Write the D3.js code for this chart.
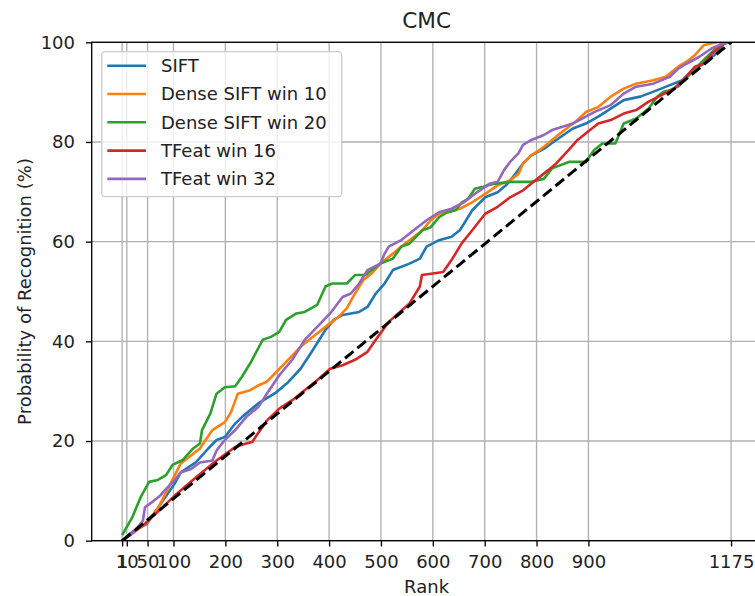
<!DOCTYPE html>
<html>
<head>
<meta charset="utf-8">
<script src="https://cdn.jsdelivr.net/npm/d3@7"></script>
<style>
  html, body { margin: 0; padding: 0; background: #fff; }
  svg { display: block; font-family: "DejaVu Sans", sans-serif; }
</style>
</head>
<body>
<svg id="chart" width="755" height="596"></svg>
<script>
// Cumulative match characteristic curves: [rank, probability of recognition %]
const sift = [[1,0],[21,1.8],[49,3.4],[62,5.4],[82,8.4],[102,11.4],[114,13.7],[143,15.7],[167,18.5],[183,20.2],[199,20.8],[219,23.5],[232,24.8],[264,27.6],[296,29.6],[321,31.8],[345,34.5],[369,38.3],[393,42.3],[409,44.3],[426,45.3],[458,45.9],[474,46.9],[490,49.6],[507,51.6],[523,54.3],[555,55.6],[575,56.6],[588,59],[612,60.3],[636,61],[652,62.3],[660,63.6],[676,66.3],[701,68.9],[725,69.9],[741,71.3],[757,73.3],[774,75.7],[790,77.3],[814,78.6],[838,80.4],[870,82.7],[895,83.7],[919,85.1],[943,86.7],[968,88.4],[1000,89.1],[1033,90.4],[1057,91.4],[1081,92.4],[1097,94.1],[1122,95.7],[1146,97.7],[1162,99.8],[1175,100]];

const denseSift10 = [[1,0],[21,1.5],[49,3.6],[70,6.5],[98,12.2],[114,15.5],[151,18.5],[175,22.2],[199,23.8],[211,25.8],[224,29.5],[248,30.2],[264,31.2],[280,31.9],[296,33.6],[321,36.3],[345,38.9],[369,40.9],[393,42.9],[418,44.9],[434,46.6],[450,49.6],[466,52.3],[482,53.6],[499,55.6],[523,57.6],[531,58.3],[555,60.3],[580,62.3],[596,64.3],[612,65.6],[628,65.9],[652,66.6],[676,67.9],[701,69.6],[725,71.3],[749,72.3],[765,73.6],[774,75.7],[790,77.3],[806,78.4],[822,79.7],[838,81.1],[854,82.4],[879,84.4],[895,86],[919,87],[943,89.1],[968,90.7],[992,91.7],[1025,92.4],[1049,93.1],[1073,95.1],[1089,96.1],[1105,97.4],[1122,99.4],[1138,99.8],[1150,100],[1175,100]];

const denseSift20 = [[1,1.1],[21,4.8],[37,8.8],[53,11.8],[70,12.2],[86,13.2],[98,15.2],[118,16.2],[138,18.5],[151,19.5],[155,22.2],[171,25.5],[183,29.5],[199,30.8],[219,31.0],[232,32.9],[248,35.6],[272,40.3],[288,40.9],[304,41.9],[317,44.3],[337,45.6],[353,45.9],[377,47.3],[393,51],[406,51.6],[434,51.6],[450,53.3],[470,53.3],[499,55.6],[523,56.6],[539,59],[555,59.6],[580,62.3],[596,62.9],[612,64.9],[628,65.9],[644,66.3],[656,67.9],[668,68.6],[681,70.6],[697,71],[717,71.6],[749,72],[790,72],[814,72.6],[830,74.7],[862,76],[895,76],[911,78.4],[927,79.7],[952,79.7],[968,83.7],[992,84.7],[1016,86.7],[1033,89.1],[1045,90.1],[1057,90.4],[1073,91.1],[1097,93.7],[1122,96.4],[1146,98.8],[1158,99.8],[1175,100]];

const tfeat16 = [[1,0],[45,3.4],[102,9],[143,12.7],[183,16.1],[219,18.8],[240,19.5],[252,19.8],[260,21.1],[280,24.1],[304,26.5],[329,28.2],[353,30.2],[377,32.2],[402,34.5],[426,35.2],[450,36.3],[474,37.9],[490,40.3],[515,43.9],[555,47.6],[575,51],[579,53.3],[600,53.6],[620,53.9],[636,56.3],[656,59.7],[676,62.3],[701,65.6],[725,67],[749,68.9],[774,70.3],[798,72.3],[822,74.3],[838,75.7],[862,78.4],[879,80.4],[903,82.4],[919,83.7],[943,84.4],[968,85.7],[992,86.4],[1016,88.1],[1041,89.4],[1065,90.7],[1089,93.1],[1105,95.1],[1122,95.7],[1138,97.7],[1162,99.8],[1175,100]];

const tfeat32 = [[1,0],[21,1.5],[41,4],[45,6.7],[62,8],[74,9],[82,10],[102,12.1],[114,13.7],[134,14.4],[151,15.7],[175,16.1],[183,18.1],[199,20.2],[219,22.2],[240,24.8],[264,26.9],[280,29.5],[304,33.2],[329,36.3],[353,40.3],[377,42.9],[402,45.6],[426,48.9],[442,49.6],[458,51.6],[474,54.3],[499,55.6],[507,57.6],[515,59],[539,60.3],[563,62.3],[588,64.3],[612,65.9],[636,66.6],[660,67.9],[685,69.9],[709,71.6],[725,72],[737,74.3],[749,76],[765,77.7],[774,79.4],[790,80.4],[814,81.4],[830,82.4],[870,83.7],[911,86],[943,87.4],[968,89.7],[992,91.1],[1025,91.7],[1057,93.1],[1073,94.7],[1089,95.7],[1114,97.1],[1138,98.8],[1162,99.8],[1175,100]];

// Random-ranking reference line
const chance = [[1,0],[1175,100]];

const seriesNames = ["SIFT", "Dense SIFT win 10", "Dense SIFT win 20", "TFeat win 16", "TFeat win 32"];
const seriesData = [sift, denseSift10, denseSift20, tfeat16, tfeat32];
const seriesColors = ["#1f77b4", "#ff7f0e", "#2ca02c", "#d62728", "#9467bd"];

const xTicks = [1, 10, 50, 100, 200, 300, 400, 500, 600, 700, 800, 900, 1175];
const yTicks = [0, 20, 40, 60, 80, 100];

// Layout
const svg = d3.select("#chart");
const plotLeft = 91.7, plotRight = 761.5, plotTop = 42.3, plotBottom = 540.7;
const fontSize = "18px";

const x = d3.scaleLinear().domain([-57.7, 1233.7]).range([plotLeft, plotRight]);
const y = d3.scaleLinear().domain([0, 100]).range([plotBottom, plotTop]);

svg.append("defs").append("clipPath").attr("id", "plotClip")
  .append("rect").attr("x", plotLeft).attr("y", plotTop)
  .attr("width", plotRight - plotLeft).attr("height", plotBottom - plotTop);

// Grid
const grid = svg.append("g").attr("stroke", "#b0b0b0").attr("stroke-width", 1.33);
grid.selectAll("line.vx").data(xTicks).join("line").attr("class", "vx")
  .attr("x1", d => x(d)).attr("x2", d => x(d))
  .attr("y1", plotTop).attr("y2", plotBottom);
grid.selectAll("line.hy").data(yTicks).join("line").attr("class", "hy")
  .attr("x1", plotLeft).attr("x2", plotRight)
  .attr("y1", d => y(d)).attr("y2", d => y(d));

// Curves
const line = d3.line().x(d => x(d[0])).y(d => y(d[1]));
const plot = svg.append("g").attr("clip-path", "url(#plotClip)");
seriesData.forEach((data, i) => {
  plot.append("path").datum(data)
    .attr("d", line)
    .attr("fill", "none")
    .attr("stroke", seriesColors[i])
    .attr("stroke-width", 2.6)
    .attr("stroke-linejoin", "round");
});
plot.append("path").datum(chance)
  .attr("d", line)
  .attr("fill", "none")
  .attr("stroke", "#000")
  .attr("stroke-width", 3)
  .attr("stroke-dasharray", "11,5");

// Axes
const xAxis = d3.axisBottom(x).tickValues(xTicks).tickSize(5.8).tickPadding(8.8).tickFormat(d3.format("d"));
const yAxis = d3.axisLeft(y).tickValues(yTicks).tickSize(5.8).tickPadding(10.9);

const gx = svg.append("g").attr("transform", `translate(0,${plotBottom})`).call(xAxis);
const gy = svg.append("g").attr("transform", `translate(${plotLeft},0)`).call(yAxis);
[gx, gy].forEach(g => {
  g.select(".domain").remove();
  g.selectAll(".tick line").attr("stroke", "#000").attr("stroke-width", 1.33);
  g.selectAll(".tick text").attr("fill", "#222").style("font-size", fontSize).style("font-family", "DejaVu Sans");
});

// Spines
svg.append("rect").attr("x", plotLeft).attr("y", plotTop)
  .attr("width", plotRight - plotLeft).attr("height", plotBottom - plotTop)
  .attr("fill", "none").attr("stroke", "#000").attr("stroke-width", 1.33);

// Titles
svg.append("text").attr("x", (plotLeft + plotRight) / 2).attr("y", 28.3)
  .attr("text-anchor", "middle").style("font-size", "21.6px").attr("fill", "#222")
  .text("CMC");
svg.append("text").attr("x", (plotLeft + plotRight) / 2).attr("y", 593)
  .attr("text-anchor", "middle").style("font-size", fontSize).attr("fill", "#222")
  .text("Rank");
svg.append("text")
  .attr("transform", `translate(30.5,${(plotTop + plotBottom) / 2}) rotate(-90)`)
  .attr("text-anchor", "middle").style("font-size", fontSize).attr("fill", "#222")
  .text("Probability of Recognition (%)");

// Legend
const legend = svg.append("g");
legend.append("rect").attr("x", 101.7).attr("y", 51.7)
  .attr("width", 240).attr("height", 145).attr("rx", 3.5)
  .attr("fill", "#fff").attr("fill-opacity", 0.8)
  .attr("stroke", "#cccccc").attr("stroke-width", 1.33);
seriesNames.forEach((name, i) => {
  const yy = 65.7 + i * 28.3;
  legend.append("line").attr("x1", 107.3).attr("x2", 146)
    .attr("y1", yy).attr("y2", yy)
    .attr("stroke", seriesColors[i]).attr("stroke-width", 2.6);
  legend.append("text").attr("x", 161).attr("y", yy).attr("dy", "0.35em")
    .style("font-size", fontSize).attr("fill", "#222").text(name);
});
</script>
</body>
</html>
